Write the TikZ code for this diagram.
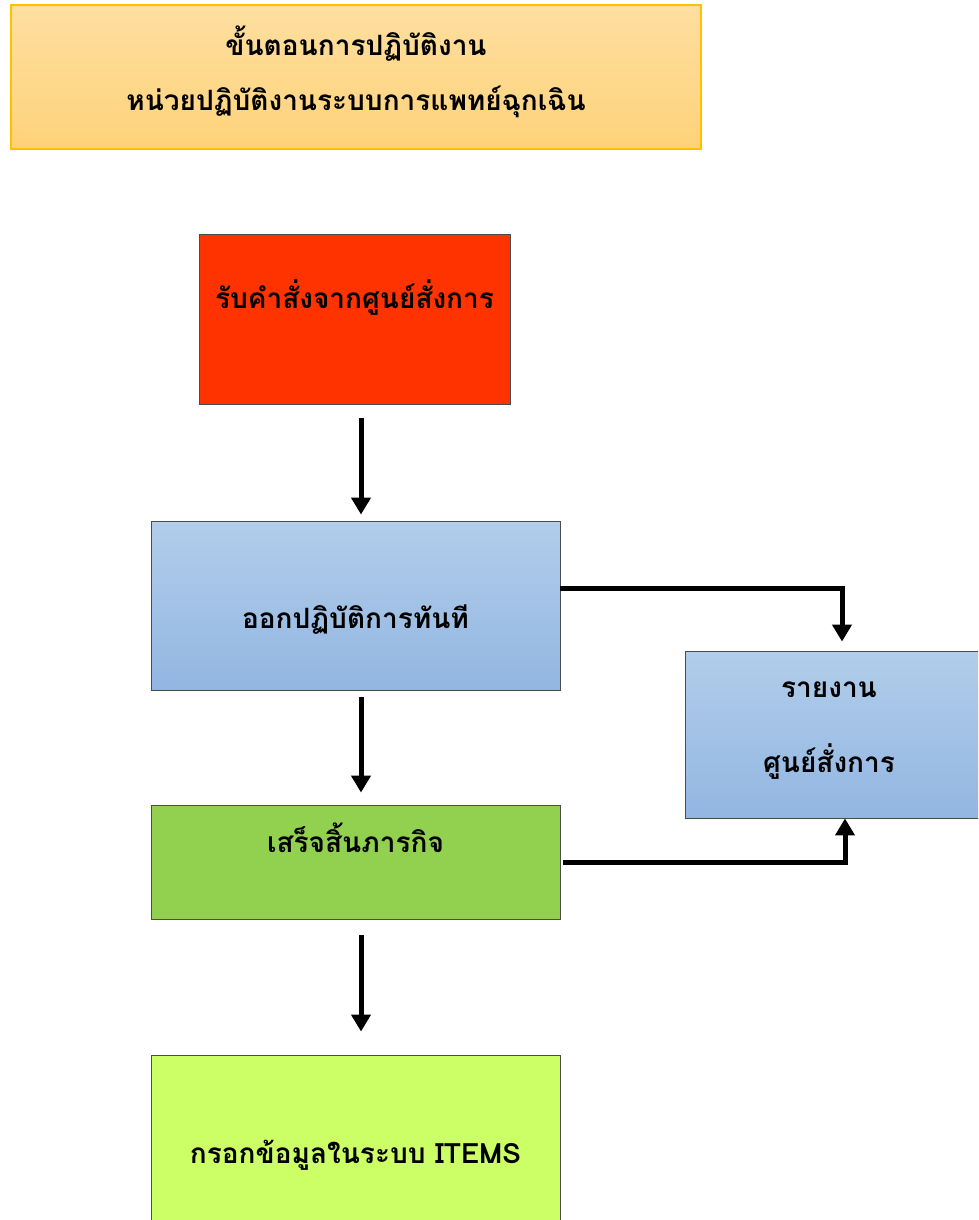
\documentclass[tikz,border=0pt]{standalone}
\usepackage{fontspec}
\newfontfamily\thaifont[Script=Thai]{Loma}
\usetikzlibrary{arrows.meta,positioning}

\definecolor{titletop}{HTML}{FEDFA0}
\definecolor{titlebot}{HTML}{FED27A}
\definecolor{titleline}{HTML}{FFC000}
\definecolor{ordered}{HTML}{FF3300}
\definecolor{bluetop}{HTML}{B2CDEA}
\definecolor{bluebot}{HTML}{92B6E2}
\definecolor{donegreen}{HTML}{92D050}
\definecolor{limegreen}{HTML}{CCFF66}

\tikzset{
  stepbox/.style={draw=black!70, line width=0.9pt, inner sep=0pt},
  bluebox/.style={stepbox, top color=bluetop, bottom color=bluebot},
  boxtext/.style={font=\thaifont\bfseries\fontsize{28}{34}\selectfont, align=center, inner sep=0pt},
  flow/.style={line width=5pt, -{Triangle[length=17pt,width=19pt]}},
}

\begin{document}
\begin{tikzpicture}[x=1pt,y=-1pt]
\useasboundingbox (0,0) rectangle (978,1220);
\clip (0,0) rectangle (978,1220);

% title
\node[draw=titleline, line width=1.2pt, top color=titletop, bottom color=titlebot,
      minimum width=690pt, minimum height=144pt] (title) at (356,77) {};
\node[boxtext, font=\thaifont\bfseries\fontsize{28}{55}\selectfont] (titletext) at (356,72)
  {ขั้นตอนการปฏิบัติงาน\\หน่วยปฏิบัติงานระบบการแพทย์ฉุกเฉิน};

% steps
\node[stepbox, fill=ordered, minimum width=311pt, minimum height=170pt] (order) at (354.5,319) {};
\node[boxtext] (ordertext) at (354.5,298) {รับคำสั่งจากศูนย์สั่งการ};

\node[bluebox, minimum width=409pt, minimum height=169pt] (action) at (355.5,605.5) {};
\node[boxtext] (actiontext) at (355.5,620) {ออกปฏิบัติการทันที};

\node[stepbox, fill=donegreen, minimum width=409pt, minimum height=114pt] (done) at (355.5,862) {};
\node[boxtext] (donetext) at (355.5,838) {เสร็จสิ้นภารกิจ};

\node[stepbox, fill=limegreen, minimum width=409pt, minimum height=200pt] (items) at (355.5,1155) {};
\node[boxtext] (itemstext) at (355.5,1155) {กรอกข้อมูลในระบบ ITEMS};

\node[bluebox, minimum width=320pt, minimum height=167pt] (report) at (845,734.5) {};
\node[boxtext, font=\thaifont\bfseries\fontsize{28}{75}\selectfont] (reporttext) at (829,731)
  {รายงาน\\ศูนย์สั่งการ};

% arrows
\coordinate (spine) at (361,0);
\draw[flow, shorten <=14pt, shorten >=6pt] (order.south -| spine) -- (action.north -| spine);
\draw[flow, shorten <=7pt, shorten >=12pt] (action.south -| spine) -- (done.north -| spine);
\draw[flow, shorten <=16pt, shorten >=23pt] (done.south -| spine) -- (items.north -| spine);
\draw[flow, shorten >=9pt] ([yshift=17pt]action.east) -| ([xshift=-3pt]report.north);
\draw[flow, shorten <=3pt] (done.east) -| (report.south);
\end{tikzpicture}
\end{document}
